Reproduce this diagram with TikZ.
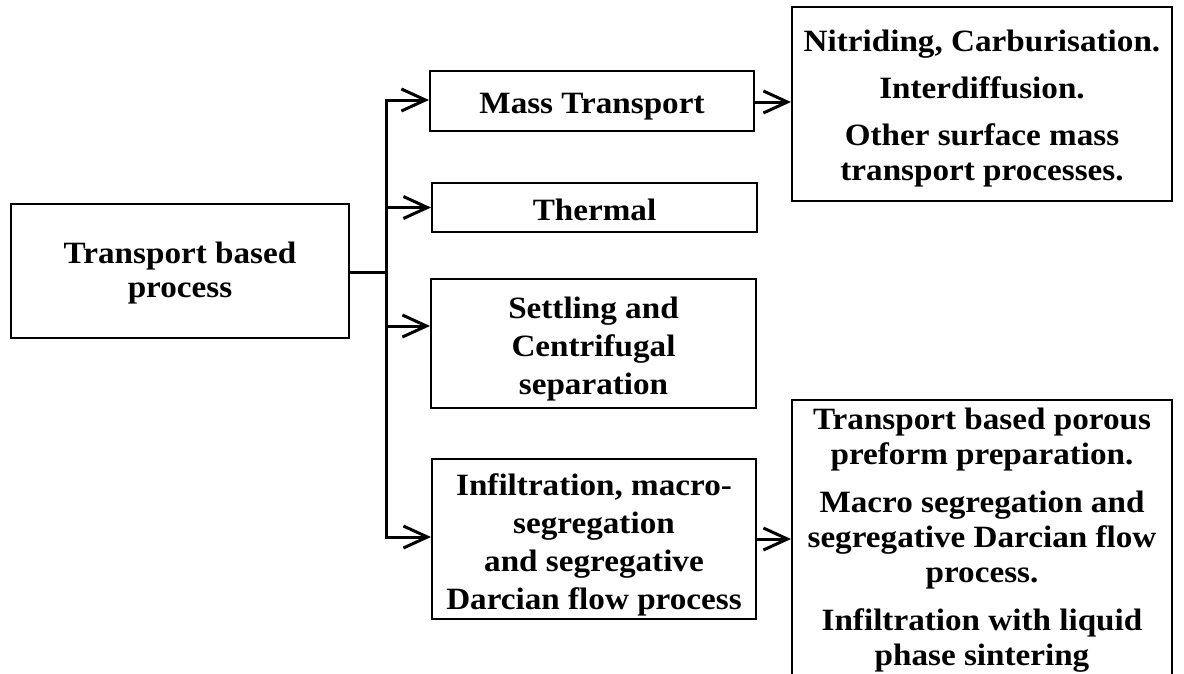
\documentclass[tikz,border=0pt]{standalone}
\usepackage{fontspec}
\setmainfont{Liberation Serif}[FakeStretch=1.07]
\usetikzlibrary{arrows.meta,calc}
\newcommand{\tstrut}[1]{\rule{0pt}{#1}}
\begin{document}
\begin{tikzpicture}[x=1pt,y=-1pt,
  box/.style={draw,line width=2pt,rectangle,inner sep=0pt,align=center,
    font=\fontsize{31}{36}\selectfont\bfseries},
  conn/.style={line width=3pt},
  arr/.style={line width=3pt,-{Straight Barb[length=24pt,width=22pt,line width=3pt]}}]
\useasboundingbox (0,0) rectangle (1184,673);
\clip (0,0) rectangle (1184,673);
\node[box,minimum width=338pt,minimum height=134pt,
  font=\fontsize{31}{34}\selectfont\bfseries] (lb) at (180,271) {\tstrut{25pt}Transport based\\process};
\node[box,minimum width=324pt,minimum height=60pt] (mass) at (592,101) {\tstrut{31.5pt}Mass Transport};
\node[box,minimum width=325pt,minimum height=49pt] (therm) at (594.5,207.5) {\tstrut{25.5pt}Thermal};
\node[box,minimum width=325pt,minimum height=129pt,
  font=\fontsize{31}{38}\selectfont\bfseries] (set) at (593.5,343.5) {\tstrut{32pt}Settling and\\Centrifugal\\separation};
\node[box,minimum width=324pt,minimum height=160pt,
  font=\fontsize{31}{38.3}\selectfont\bfseries] (inf) at (594,539) {\tstrut{33.5pt}Infiltration, macro-\\segregation\\and segregative\\Darcian flow process};
\node[box,minimum width=380pt,minimum height=194pt,
  font=\fontsize{31}{35}\selectfont\bfseries] (r1) at (982,104) {\tstrut{30pt}Nitriding, Carburisation.\\[12pt]Interdiffusion.\\[12pt]Other surface mass\\transport processes.};
\node[box,minimum width=380pt,minimum height=280pt,
  font=\fontsize{31}{35}\selectfont\bfseries] (r2) at (982,540) {Transport based porous\\preform preparation.\\[13pt]Macro segregation and\\segregative Darcian flow\\process.\\[13pt]Infiltration with liquid\\phase sintering};
\coordinate (j) at (386,272);
\draw[conn] (lb.east |- j) -- (j);
\draw[arr] (j) |- ([yshift=1pt]mass.west);
\draw[arr] (j) |- (therm.west);
\draw[arr] (j) |- ([yshift=17.5pt]set.west);
\draw[arr] (j) |- ([yshift=2pt]inf.west);
\draw[arr] ([yshift=-1pt]mass.east) -- ([yshift=-1pt]mass.east -| r1.west);
\draw[arr] (inf.east) -- (inf.east -| r2.west);
\end{tikzpicture}
\end{document}
